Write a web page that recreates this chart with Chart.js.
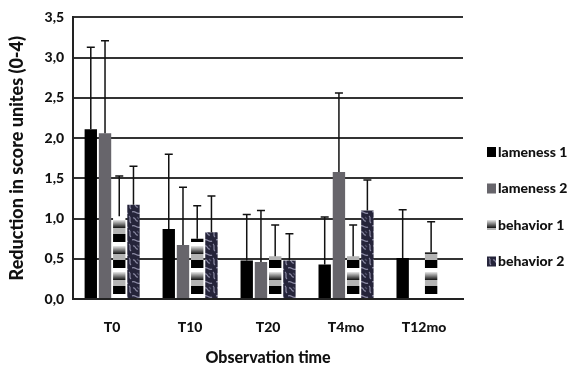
<!DOCTYPE html>
<html>
<head>
<meta charset="utf-8">
<script src="https://cdn.jsdelivr.net/npm/chart.js@4"></script>
<style>
  html, body { margin: 0; padding: 0; background: #fff; }
  #wrap { width: 575px; height: 367px; }
</style>
</head>
<body>
<div id="wrap"><canvas id="barchart" width="575" height="367"></canvas></div>
<script>
const categories = ["T0", "T10", "T20", "T4mo", "T12mo"];
const seriesNames = ["lameness 1", "lameness 2", "behavior 1", "behavior 2"];

const lameness1 = [2.11, 0.87, 0.48, 0.43, 0.51];
const lameness2 = [2.06, 0.67, 0.46, 1.58, null];
const behavior1 = [1.03, 0.75, 0.53, 0.53, 0.58];
const behavior2 = [1.17, 0.83, 0.48, 1.10, null];

// top of each error whisker
const lameness1Err = [3.13, 1.80, 1.05, 1.02, 1.11];
const lameness2Err = [3.21, 1.39, 1.10, 2.56, null];
const behavior1Err = [1.53, 1.16, 0.92, 0.92, 0.96];
const behavior2Err = [1.65, 1.28, 0.81, 1.48, null];

const yTicks = [0, 0.5, 1, 1.5, 2, 2.5, 3, 3.5];

const FONT = "Lato, 'Open Sans', sans-serif";
const ctx = document.getElementById("barchart").getContext("2d");

function stripePattern() {
  const c = document.createElement("canvas");
  c.width = 8; c.height = 26;
  const g = c.getContext("2d");
  g.fillStyle = "#000"; g.fillRect(0, 0, 8, 8);
  g.fillStyle = "#fff"; g.fillRect(0, 8, 8, 4);
  const gr = g.createLinearGradient(0, 12, 0, 20);
  gr.addColorStop(0, "#e8e8e8");
  gr.addColorStop(1, "#111");
  g.fillStyle = gr; g.fillRect(0, 12, 8, 8);
  g.fillStyle = "#b4b4b4"; g.fillRect(0, 20, 8, 6);
  return ctx.createPattern(c, "repeat");
}

function camoPattern() {
  const c = document.createElement("canvas");
  c.width = 12; c.height = 14;
  const g = c.getContext("2d");
  g.fillStyle = "#25243a"; g.fillRect(0, 0, 12, 14);
  g.strokeStyle = "#8d8ca6";
  g.lineWidth = 1.2;
  g.beginPath(); g.moveTo(0, 2); g.bezierCurveTo(3, 0, 5, 5, 8, 3); g.stroke();
  g.beginPath(); g.moveTo(9, 6); g.bezierCurveTo(12, 8, 8, 11, 11, 13); g.stroke();
  g.beginPath(); g.moveTo(1, 8); g.bezierCurveTo(4, 7, 3, 12, 6, 11); g.stroke();
  g.strokeStyle = "#4f4e68";
  g.beginPath(); g.moveTo(5, 7); g.lineTo(7, 9); g.stroke();
  return ctx.createPattern(c, "repeat");
}

const fills = ["#000000", "#67656b", stripePattern(), camoPattern()];
const values = [lameness1, lameness2, behavior1, behavior2];
const errors = [lameness1Err, lameness2Err, behavior1Err, behavior2Err];

const errorBars = {
  id: "errorBars",
  afterDatasetsDraw(chart) {
    const c = chart.ctx, y = chart.scales.y;
    c.save();
    c.strokeStyle = "#111";
    c.lineWidth = 1.5;
    chart.data.datasets.forEach((ds, di) => {
      const meta = chart.getDatasetMeta(di);
      ds.errTop.forEach((e, i) => {
        if (e == null || ds.data[i] == null) return;
        const bar = meta.data[i];
        const yt = y.getPixelForValue(e);
        c.beginPath();
        c.moveTo(bar.x, bar.y);
        c.lineTo(bar.x, yt);
        c.moveTo(bar.x - 4, yt);
        c.lineTo(bar.x + 4, yt);
        c.stroke();
      });
    });
    c.restore();
  }
};

const sideLegend = {
  id: "sideLegend",
  afterDraw(chart) {
    const c = chart.ctx;
    c.save();
    c.font = "900 14px " + FONT;
    c.textBaseline = "middle";
    chart.data.datasets.forEach((ds, i) => {
      const yy = 152 + i * 36.5;
      c.fillStyle = ds.backgroundColor;
      c.fillRect(487, yy - 5, 9, 10);
      c.fillStyle = "#111";
      c.fillText(ds.label, 498, yy);
    });
    c.restore();
  }
};

new Chart(ctx, {
  type: "bar",
  data: {
    labels: categories,
    datasets: seriesNames.map((name, i) => ({
      label: name,
      data: values[i],
      errTop: errors[i],
      backgroundColor: fills[i],
      borderWidth: 0,
      categoryPercentage: 0.73,
      barPercentage: 0.87,
    })),
  },
  options: {
    responsive: false,
    animation: false,
    layout: { padding: { top: 5, right: 112, left: 2, bottom: 0 } },
    plugins: {
      legend: { display: false },
      tooltip: { enabled: false },
    },
    scales: {
      x: {
        grid: { display: false },
        border: { display: true, color: "#222", width: 2 },
        ticks: { color: "#111", font: { family: FONT, size: 14, weight: "900" }, padding: 12 },
        title: { display: true, text: "Observation time", color: "#111",
          font: { family: FONT, size: 16, weight: "900" }, padding: { top: 0, bottom: 0 } },
      },
      y: {
        min: 0, max: 3.5,
        afterBuildTicks(axis) { axis.ticks = yTicks.map(v => ({ value: v })); },
        grid: { color: "#333", lineWidth: 2, drawTicks: false },
        border: { display: true, color: "#222", width: 2 },
        ticks: {
          color: "#111", padding: 9,
          font: { family: FONT, size: 14, weight: "900" },
          callback: v => v.toFixed(1).replace(".", ","),
        },
        title: { display: true, text: "Reduction in score unites (0-4)", color: "#111",
          font: { family: FONT, size: 18, weight: "900" }, padding: { bottom: 8 } },
      },
    },
  },
  plugins: [errorBars, sideLegend],
});
</script>
</body>
</html>
